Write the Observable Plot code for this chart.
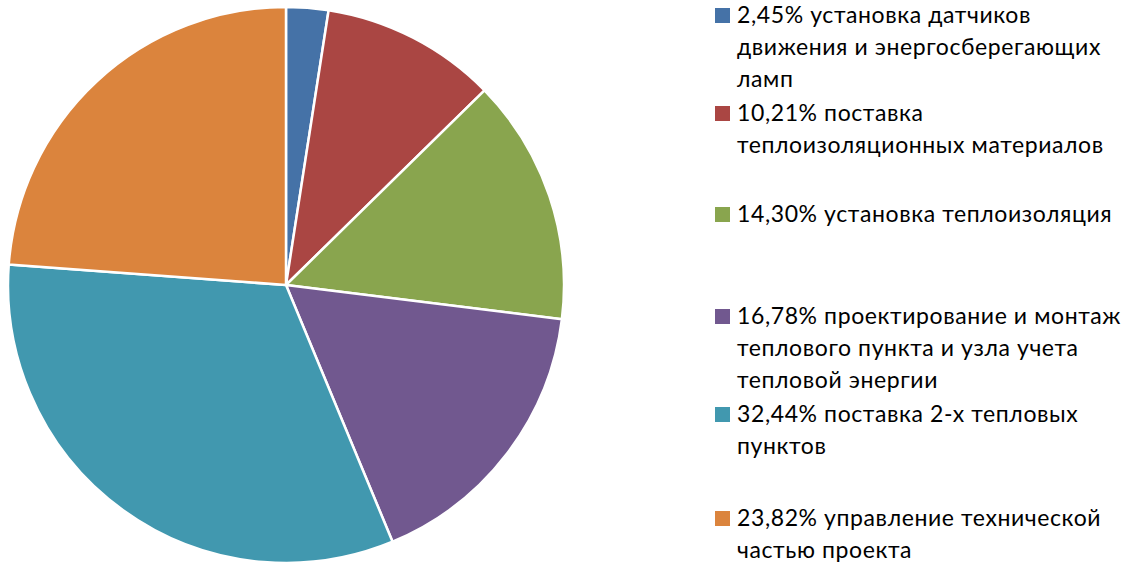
<!DOCTYPE html>
<html>
<head>
<meta charset="utf-8">
<script src="https://cdn.jsdelivr.net/npm/d3@7"></script>
<script src="https://cdn.jsdelivr.net/npm/@observablehq/plot@0.6"></script>
<style>
  html, body { margin: 0; padding: 0; background: #fff; }
  #wrap { position: relative; width: 1126px; height: 564px; overflow: hidden; }
  #chart { position: absolute; left: 0; top: 0; }
  .item { position: absolute; left: 715px; font-family: Lato, "Open Sans", sans-serif; font-size: 23px; letter-spacing: 0.6px; line-height: 32px; color: #000; white-space: pre; }
  .sw { position: absolute; left: 0; top: 8.5px; width: 15px; height: 15px; }
  .txt { position: absolute; left: 22px; top: -1px; }
</style>
</head>
<body>
<div id="wrap"><div id="chart"></div></div>
<script>
// ---- data ----
const labels = [
  "2,45% установка датчиков\nдвижения и энергосберегающих\nламп",
  "10,21% поставка\nтеплоизоляционных материалов",
  "14,30% установка теплоизоляция",
  "16,78% проектирование и монтаж\nтеплового пункта и узла учета\nтепловой энергии",
  "32,44% поставка 2-х тепловых\nпунктов",
  "23,82% управление технической\nчастью проекта"
];
const values = [2.45, 10.21, 14.30, 16.78, 32.44, 23.82];
const colors = ["#4572A7", "#AA4643", "#89A54E", "#71588F", "#4198AF", "#DB843D"];

// ---- layout ----
const cx = 286, cy = 285, R = 278;
const itemTops = [-1, 97, 198, 300, 398, 502];

const data = labels.map((label, i) => ({label, value: values[i]}));
const arcs = d3.pie().sort(null).value(d => d.value)(data);

const chart = Plot.plot({
  width: 700,
  height: 564,
  margin: 0,
  x: {domain: [-1, 1], range: [cx - R, cx + R], axis: null},
  y: {domain: [-1, 1], range: [cy + R, cy - R], axis: null},
  color: {domain: labels, range: colors},
  marks: [
    Plot.dot(data, {x: 0, y: 0, fill: "label", r: 0}),
    (index, scales) => {
      const x0 = scales.x(0), y0 = scales.y(0), rad = scales.x(1) - x0;
      const arc = d3.arc().innerRadius(0).outerRadius(rad);
      const g = d3.create("svg:g").attr("transform", `translate(${x0},${y0})`);
      g.selectAll("path").data(arcs).join("path")
        .attr("d", arc)
        .attr("fill", d => scales.color(d.data.label))
        .attr("stroke", "white")
        .attr("stroke-width", 2.5)
        .attr("stroke-linejoin", "round");
      return g.node();
    }
  ]
});
document.getElementById("chart").appendChild(chart);

const colorScale = chart.scale("color");
const wrap = document.getElementById("wrap");
labels.forEach((label, i) => {
  const item = document.createElement("div");
  item.className = "item";
  item.style.top = itemTops[i] + "px";
  const sw = document.createElement("div");
  sw.className = "sw";
  sw.style.background = colorScale.apply(label);
  const txt = document.createElement("div");
  txt.className = "txt";
  txt.textContent = label;
  item.appendChild(sw);
  item.appendChild(txt);
  wrap.appendChild(item);
});
</script>
</body>
</html>
